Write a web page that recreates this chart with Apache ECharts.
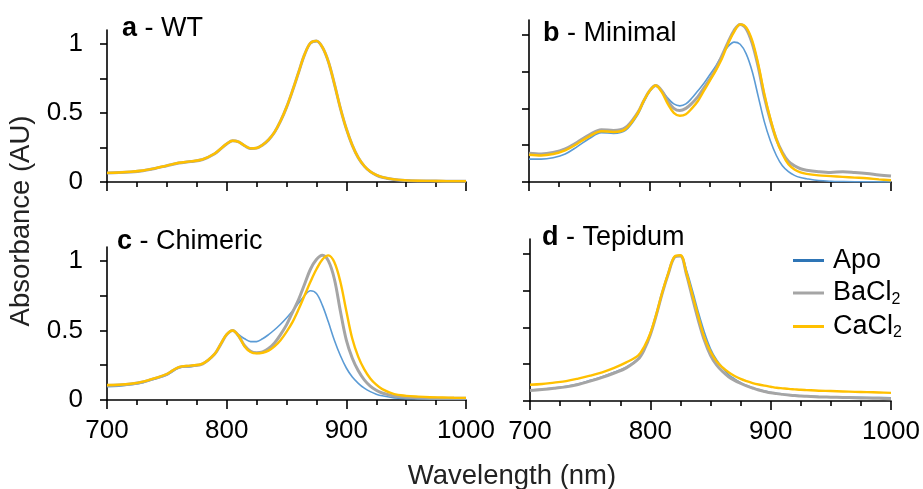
<!DOCTYPE html>
<html>
<head>
<meta charset="utf-8">
<script src="https://cdn.jsdelivr.net/npm/echarts@6/dist/echarts.min.js"></script>
<style>
html,body{margin:0;padding:0;background:#fff;}
#chart{width:923px;height:489px;}
</style>
</head>
<body>
<div id="chart"></div>
<script>
// Wavelength (nm)
var WL = [700,710,720,730,740,750,760,770,780,790,795,800,805,810,815,820,825,830,835,840,845,850,855,860,865,870,875,880,885,890,895,900,905,910,915,920,925,930,940,950,960,970,980,990,1000];

var panelTitles = [['a',' - WT'],['b',' - Minimal'],['c',' - Chimeric'],['d',' - Tepidum']];
var seriesNames = ['Apo','BaCl2','CaCl2'];
var yTickLabels = [0,0.5,1];
var yTicks = [0,0.25,0.5,0.75,1];

// a - WT
var wtApo   = [0.064,0.067,0.072,0.081,0.097,0.117,0.137,0.147,0.162,0.204,0.239,0.274,0.297,0.289,0.261,0.241,0.244,0.267,0.304,0.358,0.438,0.538,0.658,0.788,0.918,1.003,1.018,0.973,0.868,0.708,0.533,0.383,0.263,0.173,0.113,0.073,0.049,0.033,0.017,0.010,0.007,0.006,0.005,0.004,0.004];
var wtBa    = [0.065,0.068,0.073,0.082,0.098,0.118,0.138,0.148,0.163,0.205,0.240,0.275,0.298,0.290,0.262,0.242,0.245,0.268,0.305,0.360,0.440,0.540,0.660,0.790,0.920,1.005,1.020,0.975,0.870,0.710,0.535,0.385,0.265,0.175,0.115,0.075,0.050,0.034,0.018,0.011,0.008,0.007,0.006,0.005,0.005];
var wtCa    = [0.066,0.069,0.074,0.083,0.099,0.119,0.139,0.149,0.164,0.206,0.241,0.276,0.299,0.291,0.263,0.243,0.246,0.269,0.306,0.361,0.441,0.541,0.661,0.791,0.921,1.006,1.021,0.976,0.871,0.711,0.536,0.386,0.266,0.176,0.116,0.076,0.051,0.035,0.019,0.012,0.009,0.008,0.007,0.006,0.006];

// b - Minimal
var minApo  = [0.155,0.155,0.165,0.19,0.24,0.295,0.335,0.33,0.35,0.455,0.54,0.615,0.65,0.62,0.57,0.53,0.517,0.53,0.57,0.62,0.67,0.73,0.79,0.86,0.92,0.95,0.935,0.87,0.75,0.58,0.41,0.28,0.18,0.11,0.07,0.045,0.03,0.022,0.01,0.005,0.003,0.002,0.002,0.001,0.001];
var minBa   = [0.195,0.19,0.20,0.225,0.27,0.32,0.355,0.35,0.37,0.47,0.55,0.62,0.655,0.62,0.55,0.50,0.485,0.50,0.535,0.58,0.64,0.70,0.77,0.86,0.95,1.03,1.07,1.04,0.94,0.78,0.58,0.42,0.29,0.20,0.14,0.11,0.09,0.08,0.07,0.065,0.07,0.065,0.058,0.048,0.04];
var minCa   = [0.185,0.18,0.19,0.215,0.26,0.31,0.345,0.34,0.36,0.465,0.55,0.62,0.655,0.61,0.53,0.47,0.45,0.46,0.50,0.55,0.62,0.69,0.76,0.84,0.94,1.02,1.07,1.05,0.96,0.80,0.60,0.43,0.29,0.19,0.12,0.085,0.065,0.055,0.045,0.04,0.035,0.03,0.025,0.018,0.012];

// c - Chimeric
var chiApo  = [0.095,0.10,0.11,0.125,0.15,0.18,0.23,0.24,0.26,0.33,0.40,0.47,0.50,0.47,0.44,0.42,0.42,0.44,0.47,0.505,0.545,0.59,0.64,0.695,0.75,0.785,0.765,0.68,0.56,0.43,0.32,0.23,0.165,0.12,0.085,0.06,0.042,0.03,0.015,0.01,0.008,0.006,0.005,0.005,0.005];
var chiBa   = [0.105,0.108,0.115,0.13,0.155,0.185,0.235,0.245,0.26,0.33,0.40,0.47,0.50,0.46,0.39,0.35,0.34,0.345,0.37,0.41,0.47,0.54,0.63,0.72,0.83,0.94,1.01,1.04,1.00,0.87,0.64,0.43,0.30,0.21,0.145,0.10,0.07,0.05,0.028,0.02,0.016,0.014,0.013,0.012,0.012];
var chiCa   = [0.108,0.11,0.117,0.132,0.157,0.187,0.237,0.247,0.262,0.332,0.402,0.472,0.50,0.46,0.385,0.345,0.335,0.34,0.355,0.385,0.43,0.49,0.56,0.65,0.75,0.85,0.94,1.01,1.04,0.99,0.85,0.64,0.44,0.31,0.22,0.155,0.11,0.078,0.042,0.03,0.024,0.02,0.018,0.016,0.015];

// d - Tepidum
var tepApo  = [0.075,0.08,0.088,0.10,0.116,0.14,0.165,0.195,0.23,0.29,0.355,0.455,0.59,0.74,0.87,0.975,0.99,0.89,0.75,0.60,0.465,0.355,0.28,0.225,0.18,0.15,0.125,0.105,0.09,0.078,0.067,0.058,0.052,0.046,0.042,0.038,0.035,0.033,0.03,0.028,0.026,0.025,0.024,0.023,0.022];
var tepBa   = [0.072,0.078,0.086,0.096,0.112,0.135,0.16,0.19,0.225,0.285,0.35,0.45,0.585,0.735,0.865,0.975,0.985,0.86,0.70,0.545,0.41,0.31,0.245,0.20,0.165,0.14,0.12,0.102,0.088,0.075,0.065,0.056,0.05,0.045,0.04,0.037,0.034,0.032,0.028,0.026,0.024,0.022,0.02,0.018,0.016];
var tepCa   = [0.11,0.115,0.125,0.135,0.152,0.172,0.195,0.225,0.262,0.31,0.37,0.46,0.59,0.74,0.87,0.98,0.99,0.87,0.72,0.57,0.43,0.335,0.27,0.228,0.195,0.17,0.15,0.135,0.122,0.112,0.104,0.097,0.09,0.086,0.082,0.079,0.076,0.074,0.07,0.068,0.065,0.062,0.06,0.058,0.055];

var panels = [[wtApo,wtBa,wtCa],[minApo,minBa,minCa],[chiApo,chiBa,chiCa],[tepApo,tepBa,tepCa]];

var FONT = '"Liberation Sans", Arial, sans-serif';
var colors = ['#5B9BD5','#A5A5A5','#FFC000'];
var widths = [1.6,3,2.4];

var grids = [
  {left:107, top:30, width:359, height:152},
  {left:529, top:20, width:362, height:162},
  {left:107, top:247, width:359, height:153},
  {left:530, top:239, width:361, height:162}
];

function pairs(ys){ return WL.map(function(x,i){ return [x, ys[i]]; }); }

var xAxes = [], yAxes = [], series = [], graphics = [];
grids.forEach(function(g, gi){
  var bottom = gi >= 2;
  var leftCol = gi % 2 === 0;
  xAxes.push({
    type:'value', gridIndex:gi, min:700, max:1000, interval:100,
    axisLine:{show:true, onZero:false, lineStyle:{color:'#000', width:1.6}},
    axisTick:{show:true, length:9, lineStyle:{color:'#000', width:1.6}},
    minorTick:{show:true, splitNumber:4, length:5, lineStyle:{color:'#000', width:1.6}},
    splitLine:{show:false}, minorSplitLine:{show:false},
    axisLabel:{show:bottom, color:'#000', fontSize:26, fontFamily:FONT, margin:18, hideOverlap:false,
      showMinLabel:true, showMaxLabel:true, formatter:function(v){ return String(v); }}
  });
  yAxes.push({
    type:'value', gridIndex:gi, min:0, max:1.1,
    axisLine:{show:true, onZero:false, lineStyle:{color:'#000', width:1.6}},
    axisTick:{show:true, length:7, customValues:yTicks, lineStyle:{color:'#000', width:1.6}},
    splitLine:{show:false},
    axisLabel:{show:leftCol, customValues:yTickLabels, color:'#000', fontSize:26, fontFamily:FONT, margin:24,
      formatter:function(v){ return String(v); }}
  });
  panels[gi].forEach(function(ys, si){
    series.push({
      name:seriesNames[si], type:'line', xAxisIndex:gi, yAxisIndex:gi,
      data:pairs(ys), showSymbol:false, symbol:'none', smooth:0.35,
      lineStyle:{color:colors[si], width:widths[si]}, itemStyle:{color:colors[si]},
      z: 2+si, silent:true, animation:false
    });
  });
});

var titlePos = [[122,29],[543,34],[117,242],[542,238]];
panelTitles.forEach(function(t, i){
  graphics.push({
    type:'text', x:titlePos[i][0], y:titlePos[i][1],
    style:{text:'{b|'+t[0]+'}{n|'+t[1]+'}', verticalAlign:'middle', rich:{
      b:{fontWeight:'bold', fontSize:27, fontFamily:FONT, fill:'#000'},
      n:{fontSize:27, fontFamily:FONT, fill:'#000'}
    }}
  });
});
graphics.push({
  type:'text', x:21, y:221, rotation:Math.PI/2,
  style:{text:'Absorbance (AU)', fontSize:27.5, fontFamily:FONT, fill:'#222', align:'center', verticalAlign:'middle'}
});
graphics.push({
  type:'text', x:512, y:476,
  style:{text:'Wavelength (nm)', fontSize:27.5, fontFamily:FONT, fill:'#222', align:'center', verticalAlign:'middle'}
});

var chart = echarts.init(document.getElementById('chart'), null, {renderer:'canvas'});
chart.setOption({
  animation:false,
  backgroundColor:'#fff',
  grid:grids,
  xAxis:xAxes,
  yAxis:yAxes,
  series:series,
  graphic:graphics,
  legend:{
    orient:'vertical', left:788, top:242, itemWidth:31, itemHeight:3, itemGap:5.5, icon:'rect',
    data:[
      {name:'Apo', itemStyle:{color:'#2E75B6'}},
      {name:'BaCl2', itemStyle:{color:'#A5A5A5'}},
      {name:'CaCl2', itemStyle:{color:'#FFC000'}}
    ],
    formatter:function(n){
      if(n==='Apo') return '{t|Apo}';
      return '{t|'+n.slice(0,-1)+'}{s|2}';
    },
    textStyle:{color:'#000', fontFamily:FONT, rich:{
      t:{fontSize:27, fontFamily:FONT, lineHeight:29, verticalAlign:'middle', padding:[0,0,0,4]},
      s:{fontSize:16, fontFamily:FONT, lineHeight:29, verticalAlign:'bottom'}
    }}
  }
});
</script>
</body>
</html>
